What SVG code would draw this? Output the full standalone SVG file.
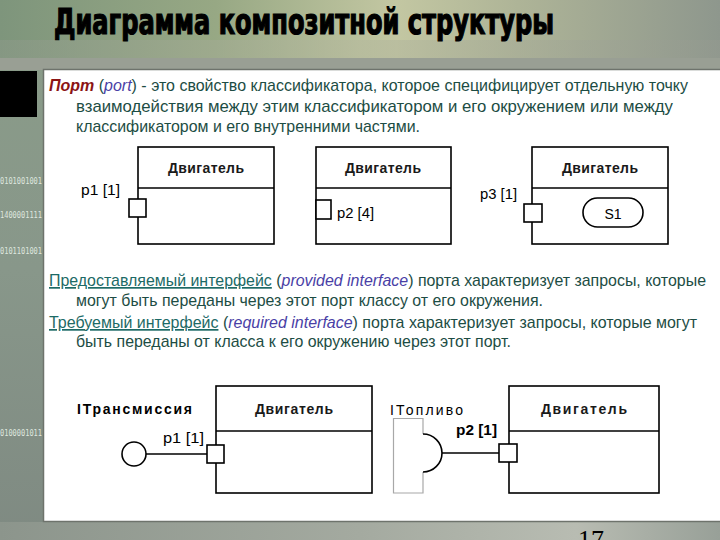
<svg xmlns="http://www.w3.org/2000/svg" width="720" height="540" viewBox="0 0 720 540">
<defs>
<linearGradient id="gTop" x1="0" y1="0" x2="1" y2="0">
<stop offset="0" stop-color="#7e957c"/>
<stop offset="0.3" stop-color="#97a884"/>
<stop offset="0.55" stop-color="#c3c7a2"/>
<stop offset="0.72" stop-color="#aeb497"/>
<stop offset="1" stop-color="#8e978d"/>
</linearGradient>
<linearGradient id="gBand" x1="0" y1="0" x2="1" y2="0">
<stop offset="0" stop-color="#8d9a8a"/>
<stop offset="0.5" stop-color="#b4b89e"/>
<stop offset="1" stop-color="#949a90"/>
</linearGradient>
<linearGradient id="gLeft" x1="0" y1="0" x2="0" y2="1">
<stop offset="0" stop-color="#8a9c88"/>
<stop offset="0.5" stop-color="#88978a"/>
<stop offset="1" stop-color="#7f8a82"/>
</linearGradient>
<linearGradient id="gBot" x1="0" y1="0" x2="1" y2="0">
<stop offset="0" stop-color="#8c958c"/>
<stop offset="0.5" stop-color="#a4aaa0"/>
<stop offset="0.8" stop-color="#b8bcb2"/>
<stop offset="1" stop-color="#98a098"/>
</linearGradient>
<style>
.body{font-family:"Liberation Sans",Arial,sans-serif;font-size:17px;fill:#1d4d44}
.red{fill:#8b1414;font-weight:bold;font-style:italic}
.blue{fill:#4a3fa6;font-style:italic}
.link{fill:#1d6a66;text-decoration:underline}
.box{fill:#ffffff;stroke:#000;stroke-width:1.6}
.ln{stroke:#000;stroke-width:1.6;fill:none}
.hdr{font-family:"Liberation Sans",Arial,sans-serif;font-size:14px;font-weight:bold;fill:#1a1a1a;text-anchor:middle}
.lbl{font-family:"Liberation Sans",Arial,sans-serif;font-size:14px;fill:#000}
.bin{font-family:"DejaVu Sans Mono",monospace;font-size:8px;fill:#dfe6df}
</style>
</defs>
<rect x="0" y="0" width="720" height="540" fill="url(#gLeft)"/>
<rect x="0" y="0" width="720" height="58" fill="url(#gTop)"/>
<rect x="0" y="40" width="720" height="18" fill="url(#gBand)" opacity="0.5"/>
<rect x="0" y="58" width="720" height="12" fill="#999f94"/>
<rect x="0" y="522" width="720" height="18" fill="url(#gBot)"/>
<rect x="0" y="71" width="37" height="46" fill="#000"/>
<text class="bin" x="0" y="184" textLength="42" lengthAdjust="spacingAndGlyphs">0101001001</text>
<text class="bin" x="0" y="218" textLength="42" lengthAdjust="spacingAndGlyphs">1400001111</text>
<text class="bin" x="0" y="254" textLength="42" lengthAdjust="spacingAndGlyphs">0101101001</text>
<text class="bin" x="0" y="436" textLength="42" lengthAdjust="spacingAndGlyphs">0100001011</text>
<text x="54" y="0" transform="translate(0,34) scale(1,1.36)" font-family="'DejaVu Sans Condensed','DejaVu Sans',sans-serif" font-weight="bold" font-size="26" fill="#000" stroke="#000" stroke-width="0.9" textLength="500" lengthAdjust="spacingAndGlyphs">Диаграмма композитной структуры</text>
<rect x="43.5" y="69.5" width="690" height="452" fill="#ffffff" stroke="#6e736c" stroke-width="1.5"/>
<text x="578" y="548" font-family="'Liberation Serif',serif" font-size="26" fill="#000">17</text>
<g id="text1" class="body">
<text x="49" y="91" textLength="639" lengthAdjust="spacingAndGlyphs"><tspan class="red">Порт</tspan> (<tspan class="blue">port</tspan>) - это свойство классификатора, которое специфицирует отдельную точку</text>
<text x="76" y="112" textLength="597" lengthAdjust="spacingAndGlyphs">взаимодействия между этим классификатором и его окружением или между</text>
<text x="76" y="132" textLength="344" lengthAdjust="spacingAndGlyphs">классификатором и его внутренними частями.</text>
</g>
<g id="text2" class="body">
<text x="49" y="286" textLength="657" lengthAdjust="spacingAndGlyphs"><tspan class="link">Предоставляемый интерфейс</tspan> (<tspan class="blue">provided interface</tspan>) порта характеризует запросы, которые</text>
<text x="76" y="306" textLength="467" lengthAdjust="spacingAndGlyphs">могут быть переданы через этот порт классу от его окружения.</text>
<text x="49" y="328" textLength="648" lengthAdjust="spacingAndGlyphs"><tspan class="link">Требуемый интерфейс</tspan> (<tspan class="blue">required interface</tspan>) порта характеризует запросы, которые могут</text>
<text x="76" y="347" textLength="435" lengthAdjust="spacingAndGlyphs">быть переданы от класса к его окружению через этот порт.</text>
</g>
<g id="connectors">
<line class="ln" x1="542" y1="213" x2="583" y2="213"/>
<line class="ln" x1="146" y1="454" x2="207" y2="454"/>
<line class="ln" x1="442" y1="453" x2="499" y2="453"/>
</g>
<g id="engine1">
<rect class="box" x="138" y="147" width="136" height="97"/>
<line class="ln" x1="138" y1="188" x2="274" y2="188"/>
<text class="hdr" x="206" y="173" textLength="76" lengthAdjust="spacing">Двигатель</text>
<rect class="box" x="129" y="199" width="17" height="18"/>
<text class="lbl" x="81" y="195" textLength="39" lengthAdjust="spacingAndGlyphs">p1 [1]</text>
</g>
<g id="engine2">
<rect class="box" x="316" y="147" width="135" height="97"/>
<line class="ln" x1="316" y1="188" x2="451" y2="188"/>
<text class="hdr" x="383" y="173" textLength="76" lengthAdjust="spacing">Двигатель</text>
<rect class="box" x="316" y="200" width="15" height="19"/>
<text class="lbl" x="337" y="218" textLength="37" lengthAdjust="spacingAndGlyphs">p2 [4]</text>
</g>
<g id="engine3">
<rect class="box" x="532" y="147" width="136" height="97"/>
<line class="ln" x1="532" y1="188" x2="668" y2="188"/>
<text class="hdr" x="600" y="173" textLength="76" lengthAdjust="spacing">Двигатель</text>
<rect class="box" x="524" y="204" width="18" height="18"/>
<text class="lbl" x="480" y="199" textLength="37" lengthAdjust="spacingAndGlyphs">p3 [1]</text>
<rect class="box" x="583" y="198" width="60" height="29" rx="14.5" ry="14.5"/>
<text class="lbl" x="613" y="219" text-anchor="middle">S1</text>
</g>
<g id="engine4">
<rect class="box" x="216" y="386" width="156" height="107"/>
<line class="ln" x1="216" y1="431" x2="372" y2="431"/>
<text class="hdr" x="294" y="414" textLength="78" lengthAdjust="spacing">Двигатель</text>
<rect class="box" x="207" y="445" width="17" height="18"/>
<text class="lbl" x="163" y="443" textLength="41" lengthAdjust="spacingAndGlyphs">p1 [1]</text>
</g>
<g id="iface1">
<circle class="box" cx="134" cy="454" r="12"/>
<text class="lbl" x="77" y="414" font-weight="bold" font-size="15" textLength="115" lengthAdjust="spacing">IТрансмиссия</text>
</g>
<g id="engine5">
<rect class="box" x="509" y="386" width="150" height="107"/>
<line class="ln" x1="509" y1="431" x2="659" y2="431"/>
<text class="hdr" x="584" y="414" textLength="86" lengthAdjust="spacing">Двигатель</text>
<rect class="box" x="499" y="444" width="18" height="18"/>
<text class="lbl" x="456" y="435" font-weight="bold" textLength="41" lengthAdjust="spacingAndGlyphs">p2 [1]</text>
</g>
<g id="iface2">
<path d="M423,434 V418.5 H393.5 V493 H423 V472" fill="none" stroke="#a8a8a8" stroke-width="1.2"/>
<path d="M423,434 A19,19 0 0 1 423,472" fill="none" stroke="#000" stroke-width="1.6"/>
<text class="lbl" x="390" y="415" font-size="15" textLength="73" lengthAdjust="spacing">IТопливо</text>
</g>
</svg>
